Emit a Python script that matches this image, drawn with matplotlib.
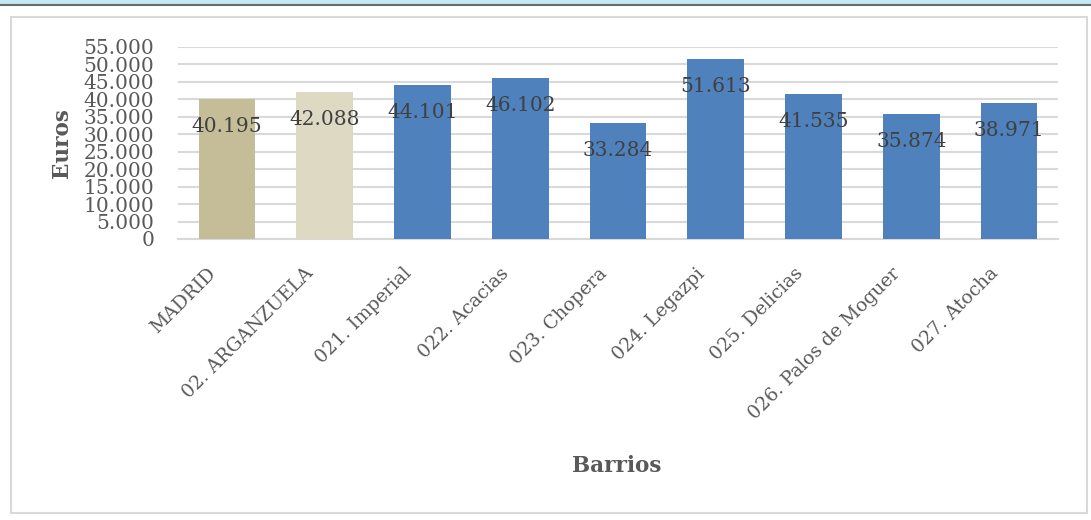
import numpy as np
import matplotlib.pyplot as plt
import matplotlib.transforms as mtransforms
from matplotlib.patches import Rectangle
from matplotlib.lines import Line2D

# Datos
barrios = ["MADRID", "02. ARGANZUELA", "021. Imperial", "022. Acacias", "023. Chopera",
           "024. Legazpi", "025. Delicias", "026. Palos de Moguer", "027. Atocha"]
renta = [40195, 42088, 44101, 46102, 33284, 51613, 41535, 35874, 38971]
etiquetas = ["40.195", "42.088", "44.101", "46.102", "33.284",
             "51.613", "41.535", "35.874", "38.971"]
yticks = list(range(0, 55001, 5000))
ytick_labels = ["0" if v == 0 else f"{v // 1000}.000" for v in yticks]

colores = ["#c4bd97", "#ddd9c3"] + ["#4f81bd"] * 7

plt.rcParams['font.family'] = ['DejaVu Serif']

W, H = 1091, 520
fig = plt.figure(figsize=(W / 100, H / 100), dpi=100)

# franja superior y marco del grafico
fig.add_artist(Rectangle((0, 1 - 4 / H), 1, 4 / H, transform=fig.transFigure,
                         facecolor="#bfe9f3", edgecolor="none"))
fig.add_artist(Line2D([0, 1], [1 - 4.5 / H, 1 - 4.5 / H], transform=fig.transFigure,
                      color="#6b6b6b", lw=1.5))
fig.add_artist(Rectangle((11 / W, 1 - 513 / H), (1087 - 11) / W, (513 - 17) / H,
                         transform=fig.transFigure, facecolor="none",
                         edgecolor="#d9d9d9", lw=1.5))

ax = fig.add_axes([178 / W, 1 - 239 / H, (1058 - 178) / W, (239 - 47) / H])
x = np.arange(len(barrios))
ax.bar(x, renta, width=0.58, color=colores, zorder=3)

for xi, v, lab in zip(x, renta, etiquetas):
    ax.annotate(lab, (xi, v), xytext=(0, -20), textcoords="offset points",
                ha="center", va="center", fontsize=14.5, color="#404040", zorder=4)

ax.set_xlim(-0.5, len(barrios) - 0.5)
ax.set_ylim(0, 55000)
ax.set_yticks(yticks)
ax.set_yticklabels(ytick_labels)
ax.yaxis.grid(True, color="#d9d9d9", lw=1.5, zorder=0)
ax.tick_params(axis="y", length=0, pad=17, labelsize=14.5, labelcolor="#595959")
ax.set_xticks(x)
ax.set_xticklabels(barrios, rotation=45, ha="right", rotation_mode="anchor")
ax.tick_params(axis="x", length=0, pad=14, labelsize=13.5, labelcolor="#595959")
# desplazar las etiquetas del eje x un poco a la izquierda y abajo
desp = mtransforms.ScaledTranslation(-20 / 100, -6 / 100, fig.dpi_scale_trans)
for t in ax.get_xticklabels():
    t.set_transform(t.get_transform() + desp)
for s in ["top", "right", "left"]:
    ax.spines[s].set_visible(False)
ax.spines["bottom"].set_color("#d9d9d9")
ax.spines["bottom"].set_linewidth(1.5)

fig.text(62 / W, 1 - 143 / H, "Euros", rotation=90, ha="center", va="center",
         fontsize=15.5, fontweight="bold", color="#595959")
fig.text(617 / W, 1 - 466 / H, "Barrios", ha="center", va="center",
         fontsize=15.5, fontweight="bold", color="#595959")

fig.savefig("out.png", dpi=100)
